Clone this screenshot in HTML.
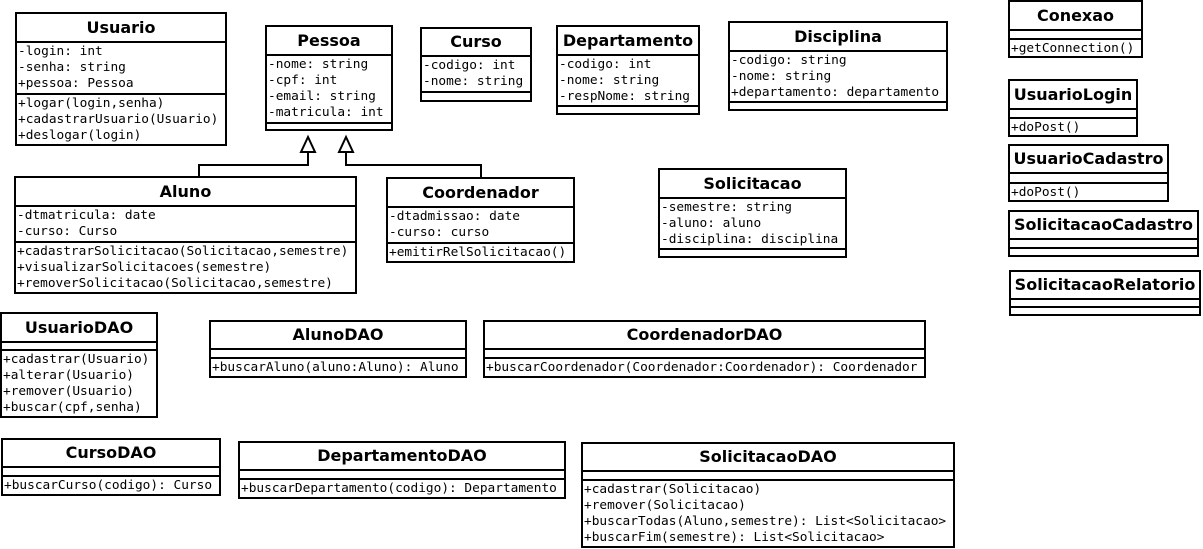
<!DOCTYPE html>
<html><head><meta charset="utf-8"><style>
body{margin:0;width:1203px;height:549px;background:#fff;position:relative;overflow:hidden}
.b{position:absolute;border:2px solid #000;box-sizing:border-box;display:flex;flex-direction:column;background:#fff}
.t{font:bold 16px "DejaVu Sans","Liberation Sans",sans-serif;text-align:center;flex:none;white-space:nowrap}
.s{border-top:2px solid #000;box-sizing:border-box;flex:none;font:12.8px "DejaVu Sans Mono","Liberation Mono",monospace;line-height:16px;padding:1px 0 0 1px;white-space:pre;overflow:visible}
.s.l{flex:1}
svg{position:absolute;left:0;top:0}
</style></head><body>
<svg width="1203" height="549">
<polyline points="199,177 199,165 308,165 308,152" fill="none" stroke="#000" stroke-width="2"/>
<polyline points="481,178 481,165 346,165 346,152" fill="none" stroke="#000" stroke-width="2"/>
<polygon points="308,137 301,152 315,152" fill="#fff" stroke="#000" stroke-width="2"/>
<polygon points="346,137 339,152 353,152" fill="#fff" stroke="#000" stroke-width="2"/>
</svg>

<div class="b" style="left:15px;top:12px;width:212px;height:134px"><div class="t" style="height:27px;line-height:27px">Usuario</div><div class="s" style="height:52px">-login: int
-senha: string
+pessoa: Pessoa</div><div class="s l">+logar(login,senha)
+cadastrarUsuario(Usuario)
+deslogar(login)</div></div>

<div class="b" style="left:265px;top:25px;width:128px;height:106px"><div class="t" style="height:27px;line-height:27px">Pessoa</div><div class="s" style="height:68px">-nome: string
-cpf: int
-email: string
-matricula: int</div><div class="s l"></div></div>

<div class="b" style="left:420px;top:27px;width:112px;height:75px"><div class="t" style="height:26px;line-height:26px">Curso</div><div class="s" style="height:36px">-codigo: int
-nome: string</div><div class="s l"></div></div>

<div class="b" style="left:556px;top:25px;width:144px;height:90px"><div class="t" style="height:27px;line-height:27px">Departamento</div><div class="s" style="height:51px">-codigo: int
-nome: string
-respNome: string</div><div class="s l"></div></div>

<div class="b" style="left:728px;top:21px;width:220px;height:90px"><div class="t" style="height:27px;line-height:27px">Disciplina</div><div class="s" style="height:51px">-codigo: string
-nome: string
+departamento: departamento</div><div class="s l"></div></div>

<div class="b" style="left:1008px;top:0px;width:135px;height:58px"><div class="t" style="height:27px;line-height:27px">Conexao</div><div class="s" style="height:9px"></div><div class="s l">+getConnection()</div></div>

<div class="b" style="left:1008px;top:79px;width:130px;height:58px"><div class="t" style="height:27px;line-height:27px">UsuarioLogin</div><div class="s" style="height:9px"></div><div class="s l">+doPost()</div></div>

<div class="b" style="left:1008px;top:144px;width:161px;height:58px"><div class="t" style="height:26px;line-height:26px">UsuarioCadastro</div><div class="s" style="height:10px"></div><div class="s l">+doPost()</div></div>

<div class="b" style="left:1008px;top:210px;width:191px;height:47px"><div class="t" style="height:26px;line-height:26px">SolicitacaoCadastro</div><div class="s" style="height:9px"></div><div class="s l"></div></div>

<div class="b" style="left:1009px;top:270px;width:192px;height:46px"><div class="t" style="height:26px;line-height:26px">SolicitacaoRelatorio</div><div class="s" style="height:8px"></div><div class="s l"></div></div>

<div class="b" style="left:14px;top:176px;width:343px;height:118px"><div class="t" style="height:27px;line-height:27px">Aluno</div><div class="s" style="height:36px">-dtmatricula: date
-curso: Curso</div><div class="s l">+cadastrarSolicitacao(Solicitacao,semestre)
+visualizarSolicitacoes(semestre)
+removerSolicitacao(Solicitacao,semestre)</div></div>

<div class="b" style="left:386px;top:177px;width:189px;height:86px"><div class="t" style="height:27px;line-height:27px">Coordenador</div><div class="s" style="height:36px">-dtadmissao: date
-curso: curso</div><div class="s l">+emitirRelSolicitacao()</div></div>

<div class="b" style="left:658px;top:168px;width:189px;height:90px"><div class="t" style="height:27px;line-height:27px">Solicitacao</div><div class="s" style="height:51px">-semestre: string
-aluno: aluno
-disciplina: disciplina</div><div class="s l"></div></div>

<div class="b" style="left:0px;top:312px;width:158px;height:106px"><div class="t" style="height:27px;line-height:27px">UsuarioDAO</div><div class="s" style="height:8px"></div><div class="s l">+cadastrar(Usuario)
+alterar(Usuario)
+remover(Usuario)
+buscar(cpf,senha)</div></div>

<div class="b" style="left:209px;top:320px;width:258px;height:58px"><div class="t" style="height:26px;line-height:26px">AlunoDAO</div><div class="s" style="height:9px"></div><div class="s l">+buscarAluno(aluno:Aluno): Aluno</div></div>

<div class="b" style="left:483px;top:320px;width:443px;height:58px"><div class="t" style="height:26px;line-height:26px">CoordenadorDAO</div><div class="s" style="height:9px"></div><div class="s l">+buscarCoordenador(Coordenador:Coordenador): Coordenador</div></div>

<div class="b" style="left:1px;top:438px;width:220px;height:58px"><div class="t" style="height:26px;line-height:26px">CursoDAO</div><div class="s" style="height:9px"></div><div class="s l">+buscarCurso(codigo): Curso</div></div>

<div class="b" style="left:238px;top:441px;width:328px;height:58px"><div class="t" style="height:26px;line-height:26px">DepartamentoDAO</div><div class="s" style="height:9px"></div><div class="s l">+buscarDepartamento(codigo): Departamento</div></div>

<div class="b" style="left:581px;top:442px;width:374px;height:106px"><div class="t" style="height:26px;line-height:26px">SolicitacaoDAO</div><div class="s" style="height:9px"></div><div class="s l">+cadastrar(Solicitacao)
+remover(Solicitacao)
+buscarTodas(Aluno,semestre): List&lt;Solicitacao&gt;
+buscarFim(semestre): List&lt;Solicitacao&gt;</div></div>
</body></html>
